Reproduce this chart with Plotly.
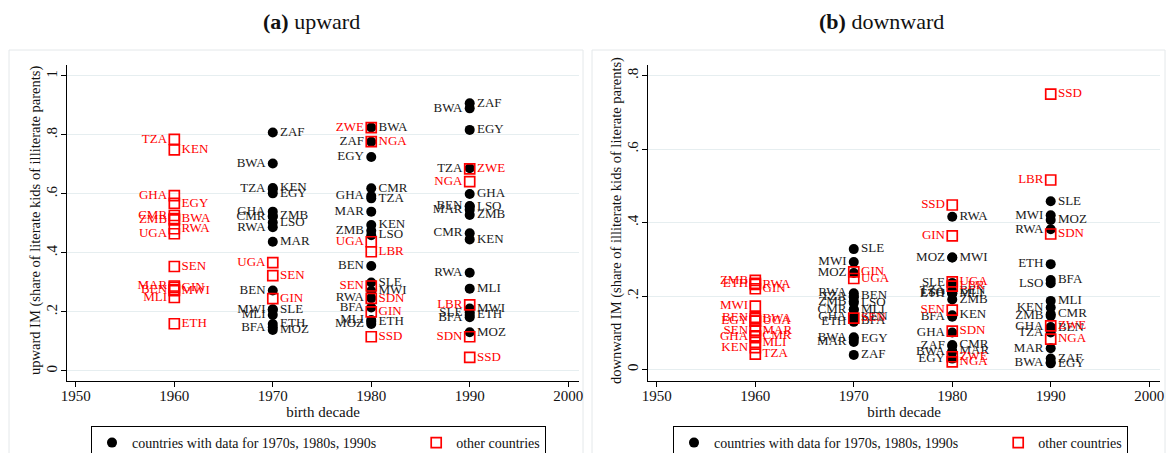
import plotly.graph_objects as go

# ---------------- DATA ----------------
# Panel (a) upward IM
up_codes = ["TZA","KEN","GHA","EGY","CMR","ZMB","BWA","RWA","UGA","SEN","MAR","GIN","BEN","MWI","MLI","ETH",
            "ZAF","BWA","TZA","KEN","EGY","GHA","ZMB","CMR","LSO","RWA","MAR","UGA","SEN","BEN","GIN","MWI","SLE","MLI","ETH","BFA","MOZ",
            "ZWE","BWA","ZAF","NGA","EGY","CMR","GHA","TZA","MAR","KEN","ZMB","LSO","UGA","LBR","BEN","SLE","SEN","MWI","RWA","SDN","BFA","GIN","MLI","ETH","MOZ","SSD",
            "ZAF","BWA","EGY","TZA","ZWE","NGA","GHA","BEN","LSO","MAR","ZMB","CMR","KEN","RWA","MLI","LBR","MWI","SLE","ETH","BFA","MOZ","SDN","SSD"]
up_decade = [1960]*16 + [1970]*21 + [1980]*26 + [1990]*23
up_value = [0.785,0.749,0.594,0.568,0.527,0.512,0.516,0.482,0.465,0.354,0.288,0.283,0.275,0.272,0.249,0.160,
            0.808,0.703,0.616,0.620,0.602,0.540,0.525,0.523,0.503,0.487,0.438,0.367,0.323,0.273,0.245,0.209,0.207,0.190,0.159,0.148,0.139,
            0.825,0.825,0.777,0.777,0.725,0.619,0.593,0.585,0.540,0.495,0.475,0.460,0.438,0.404,0.356,0.300,0.288,0.271,0.247,0.246,0.215,0.200,0.173,0.167,0.159,0.116,
            0.907,0.890,0.817,0.687,0.685,0.642,0.600,0.559,0.557,0.546,0.529,0.467,0.446,0.333,0.279,0.224,0.212,0.199,0.190,0.182,0.131,0.116,0.046]
# 1 = country with data for 1970s, 1980s, 1990s ; 0 = other
up_core = [0]*16 + \
          [1,1,1,1,1,1,1,1,1,1,1,0,0,1,0,1,1,1,1,1,1] + \
          [0,1,1,0,1,1,1,1,1,1,1,1,0,0,1,1,0,1,1,0,1,0,1,1,1,0] + \
          [1,1,1,1,0,0,1,1,1,1,1,1,1,1,1,0,1,1,1,1,1,0,0]
up_side = ["L","R","L","R","L","L","R","R","L","R","L","R","L","R","L","R",
           "R","L","L","R","R","L","R","L","R","L","R","L","R","L","R","L","R","L","R","L","R",
           "L","R","L","R","L","R","L","R","L","R","L","R","L","R","L","R","L","R","L","R","L","R","L","R","L","R",
           "R","L","R","L","R","L","R","L","R","L","R","L","R","L","R","L","R","L","R","L","R","L","R"]

# Panel (b) downward IM
dn_codes = ["ZMB","ETH","RWA","GIN","MWI","BEN","BWA","EGY","UGA","SEN","MAR","GHA","CMR","MLI","KEN","TZA",
            "SLE","MWI","MOZ","GIN","UGA","RWA","BEN","TZA","ZMB","LSO","CMR","MLI","GHA","KEN","SEN","ETH","BFA","BWA","EGY","MAR","ZAF",
            "SSD","RWA","GIN","MOZ","MWI","SLE","UGA","LBR","TZA","BEN","ETH","MLI","LSO","ZMB","SEN","KEN","BFA","GHA","SDN","ZAF","CMR","BWA","MAR","EGY","ZWE","NGA",
            "SSD","LBR","SLE","MWI","MOZ","RWA","SDN","ETH","BFA","LSO","MLI","KEN","CMR","ZMB","ZWE","GHA","BEN","TZA","NGA","MAR","ZAF","BWA","EGY"]
dn_decade = [1960]*16 + [1970]*21 + [1980]*26 + [1990]*23
dn_value = [0.243,0.235,0.232,0.220,0.173,0.142,0.139,0.132,0.132,0.106,0.107,0.090,0.092,0.074,0.060,0.042,
            0.328,0.293,0.263,0.266,0.248,0.208,0.200,0.197,0.186,0.181,0.162,0.164,0.143,0.143,0.140,0.130,0.132,0.088,0.083,0.075,0.040,
            0.448,0.416,0.364,0.305,0.305,0.236,0.239,0.227,0.214,0.214,0.207,0.207,0.210,0.191,0.162,0.148,0.144,0.101,0.105,0.064,0.067,0.048,0.050,0.030,0.035,0.021,
            0.750,0.516,0.458,0.420,0.407,0.382,0.369,0.287,0.244,0.235,0.187,0.169,0.151,0.146,0.119,0.116,0.114,0.101,0.083,0.058,0.030,0.020,0.017]
dn_core = [0]*16 + \
          [1,1,1,0,0,1,1,1,1,1,1,1,1,1,0,1,1,1,1,1,1] + \
          [0,1,0,1,1,1,0,0,1,1,1,1,1,1,0,1,1,1,0,1,1,1,1,1,0,0] + \
          [0,0,1,1,1,1,0,1,1,1,1,1,1,1,0,1,1,1,0,1,1,1,1]
dn_side = ["L","L","R","R","L","L","R","L","R","L","R","L","R","R","L","R",
           "R","L","L","R","R","L","R","L","L","R","L","R","L","R","R","L","R","L","R","L","R",
           "L","R","L","L","R","L","R","R","L","R","L","R","L","R","L","R","L","L","R","L","R","L","R","L","R","R",
           "R","L","R","L","R","L","R","L","R","L","R","L","R","L","R","L","R","L","R","L","R","L","R"]

x_ticks = [1950, 1960, 1970, 1980, 1990, 2000]
up_yticks = [0, 0.2, 0.4, 0.6, 0.8, 1]
up_yticklabels = ["0", ".2", ".4", ".6", ".8", "1"]
dn_yticks = [0, 0.2, 0.4, 0.6, 0.8]
dn_yticklabels = ["0", ".2", ".4", ".6", ".8"]

legend_core = "countries with data for 1970s, 1980s, 1990s"
legend_other = "other countries"
up_ytitle = "upward IM (share of literate kids of illiterate parents)"
dn_ytitle = "downward IM (share of illiterate kids of literate parents)"

# ---------------- FIGURE ----------------
FONT = "Liberation Serif"
RED = "#FF0000"
BLACK = "#000000"
W, H = 1169, 453

fig = go.Figure()

def add_panel(codes, decade, value, core, side, xa, ya, legend_name):
    for is_core in (1, 0):
        for s in ("L", "R"):
            idx = [i for i in range(len(codes)) if core[i] == is_core and side[i] == s]
            if not idx:
                continue
            if is_core:
                marker = dict(symbol="circle", size=10, color=BLACK, line=dict(width=0))
                tcol = "#1a1a1a"
            else:
                marker = dict(symbol="square-open", size=10, color=RED, line=dict(width=1.7, color=RED))
                tcol = RED
            fig.add_trace(go.Scatter(
                x=[decade[i] for i in idx], y=[value[i] for i in idx],
                text=[codes[i] for i in idx], mode="markers+text",
                textposition="middle left" if s == "L" else "middle right",
                textfont=dict(family=FONT, size=13, color=tcol),
                marker=marker, xaxis=xa, yaxis=ya, showlegend=False, hoverinfo="skip",
                cliponaxis=False))
    # legend entries
    fig.add_trace(go.Scatter(x=[None], y=[None], mode="markers", name=legend_core + "\u00a0" * 10,
                             marker=dict(symbol="circle", size=10, color=BLACK),
                             xaxis=xa, yaxis=ya, legend=legend_name, showlegend=True))
    fig.add_trace(go.Scatter(x=[None], y=[None], mode="markers", name=legend_other,
                             marker=dict(symbol="square-open", size=10, color=RED, line=dict(width=1.7, color=RED)),
                             xaxis=xa, yaxis=ya, legend=legend_name, showlegend=True))

add_panel(up_codes, up_decade, up_value, up_core, up_side, "x", "y", "legend")
add_panel(dn_codes, dn_decade, dn_value, dn_core, dn_side, "x2", "y2", "legend2")

ydom = [1 - 381 / H, 1 - 65 / H]
axis_common = dict(showline=True, linecolor="black", linewidth=1, ticks="outside", ticklen=5,
                   tickcolor="black", tickfont=dict(family=FONT, size=15, color="#111"),
                   zeroline=False, mirror=False, automargin=False)
xcommon = dict(axis_common, tickvals=x_ticks, ticktext=[str(t) for t in x_ticks], showgrid=False,
               range=[1949.1, 2001.1], ticklabelstandoff=-4,
               title=dict(text="birth decade", font=dict(family=FONT, size=15, color="#111"), standoff=2))
ycommon = dict(axis_common, tickangle=-90, showgrid=True, gridcolor="#E6EEF0", gridwidth=1.2,
               ticklabelstandoff=-2)

legend_common = dict(orientation="h", xref="container", yref="container", xanchor="left",
                     y=1 - 426 / H, yanchor="top", bordercolor="black", borderwidth=1, bgcolor="white",
                     font=dict(family=FONT, size=14, color="#111"), itemwidth=30)

ytitle_font = dict(family=FONT, size=14.5, color="#111")

fig.update_layout(
    width=W, height=H, margin=dict(l=0, r=0, t=0, b=0, autoexpand=False),
    paper_bgcolor="white", plot_bgcolor="white",
    font=dict(family=FONT, color="#111"),
    xaxis=dict(xcommon, domain=[67 / W, 579 / W], anchor="y"),
    yaxis=dict(ycommon, domain=ydom, anchor="x", range=[-0.034, 1.037],
               tickvals=up_yticks, ticktext=up_yticklabels),
    xaxis2=dict(xcommon, domain=[648 / W, 1160 / W], anchor="y2"),
    yaxis2=dict(ycommon, domain=ydom, anchor="x2", range=[-0.031, 0.829],
                tickvals=dn_yticks, ticktext=dn_yticklabels),
    legend=dict(legend_common, x=91 / W),
    legend2=dict(legend_common, x=673 / W),
    shapes=[
        dict(type="rect", xref="paper", yref="paper", x0=9 / W, x1=583 / W, y0=-0.05, y1=1 - 50 / H,
             line=dict(color="#E4E8EA", width=1), fillcolor="rgba(0,0,0,0)", layer="below"),
        dict(type="rect", xref="paper", yref="paper", x0=592 / W, x1=1165 / W, y0=-0.05, y1=1 - 50 / H,
             line=dict(color="#E4E8EA", width=1), fillcolor="rgba(0,0,0,0)", layer="below"),
    ],
    annotations=[
        dict(text="<b>(a)</b> upward", x=311 / W, y=1 - 21 / H, xref="paper", yref="paper",
             showarrow=False, font=dict(family=FONT, size=22, color="#111"), xanchor="center", yanchor="middle"),
        dict(text="<b>(b)</b> downward", x=881 / W, y=1 - 21 / H, xref="paper", yref="paper",
             showarrow=False, font=dict(family=FONT, size=22, color="#111"), xanchor="center", yanchor="middle"),
        dict(text=up_ytitle, x=35 / W, y=1 - 221 / H, xref="paper", yref="paper", textangle=-90,
             showarrow=False, font=ytitle_font, xanchor="center", yanchor="middle"),
        dict(text=dn_ytitle, x=616 / W, y=1 - 221 / H, xref="paper", yref="paper", textangle=-90,
             showarrow=False, font=ytitle_font, xanchor="center", yanchor="middle"),
    ],
)

fig.write_html("out.html")
